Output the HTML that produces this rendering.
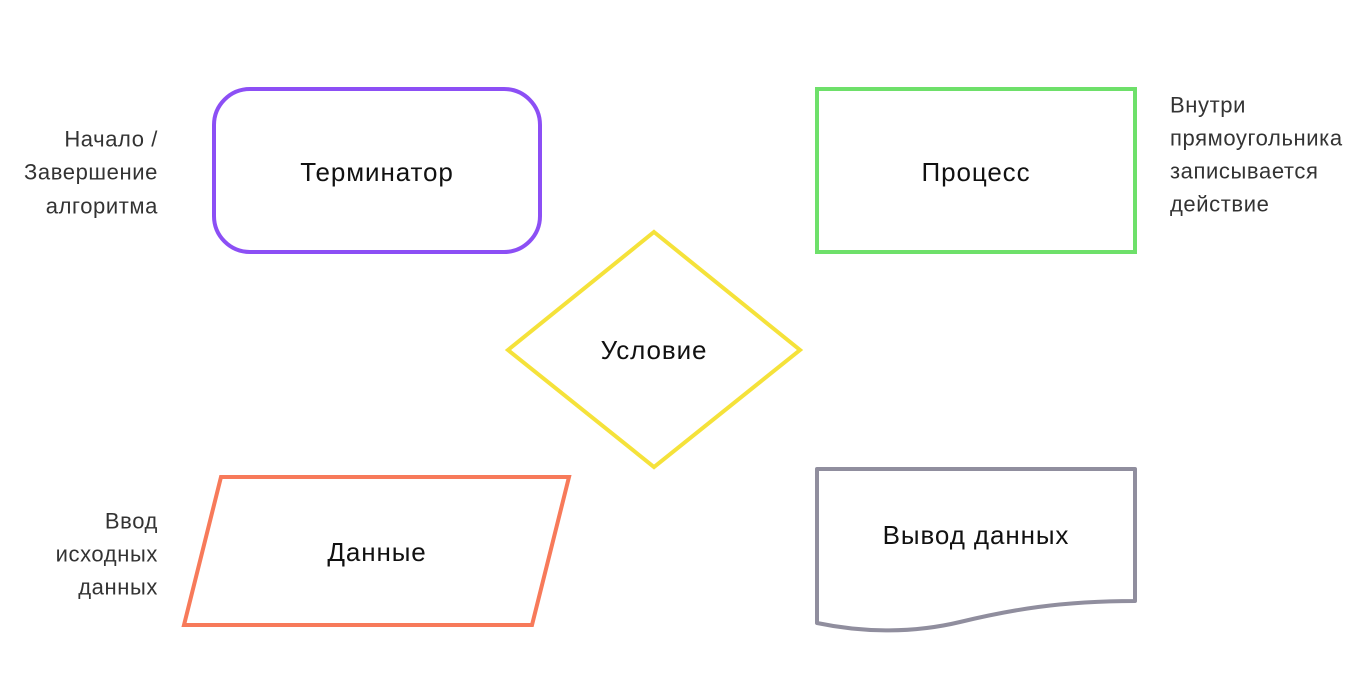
<!DOCTYPE html>
<html><head><meta charset="utf-8"><style>
body{margin:0;background:#fff;}
svg{display:block}
text{font-family:"Liberation Sans","DejaVu Sans",sans-serif;}
.l{font-size:26px;fill:#111;text-anchor:middle;dominant-baseline:central;letter-spacing:0.9px}
.s{font-size:22px;fill:#333;dominant-baseline:central;letter-spacing:0.6px}
</style></head><body>
<svg width="1366" height="692" viewBox="0 0 1366 692" xmlns="http://www.w3.org/2000/svg">
<rect x="0" y="0" width="1366" height="692" fill="#fff"/>
<rect x="214" y="89" width="326" height="163" rx="36" fill="none" stroke="#8c4ff5" stroke-width="4"/>
<text class="l" x="377" y="172">Терминатор</text>
<rect x="817" y="89" width="318" height="163" fill="none" stroke="#6ee06a" stroke-width="4"/>
<text class="l" x="976" y="172">Процесс</text>
<polygon points="654,232 800,350 654,467 508,350" fill="none" stroke="#f5e23a" stroke-width="4"/>
<text class="l" x="654" y="350">Условие</text>
<polygon points="221,477 569,477 532,625 184,625" fill="none" stroke="#f77a5a" stroke-width="4"/>
<text class="l" x="377" y="552">Данные</text>
<path d="M817,623 L817,469 L1135,469 L1135,601 C1060,601 1010,610 960,622 C910,634 860,632 817,623 Z" fill="none" stroke="#908e9e" stroke-width="4" stroke-linejoin="round"/>
<text class="l" x="976" y="535">Вывод данных</text>
<g text-anchor="end">
<text class="s" x="158" y="139">Начало /</text>
<text class="s" x="158" y="172">Завершение</text>
<text class="s" x="158" y="206">алгоритма</text>
<text class="s" x="158" y="521">Ввод</text>
<text class="s" x="158" y="554">исходных</text>
<text class="s" x="158" y="587">данных</text>
</g>
<text class="s" x="1170" y="105">Внутри</text>
<text class="s" x="1170" y="138">прямоугольника</text>
<text class="s" x="1170" y="171">записывается</text>
<text class="s" x="1170" y="204">действие</text>
</svg>
</body></html>
